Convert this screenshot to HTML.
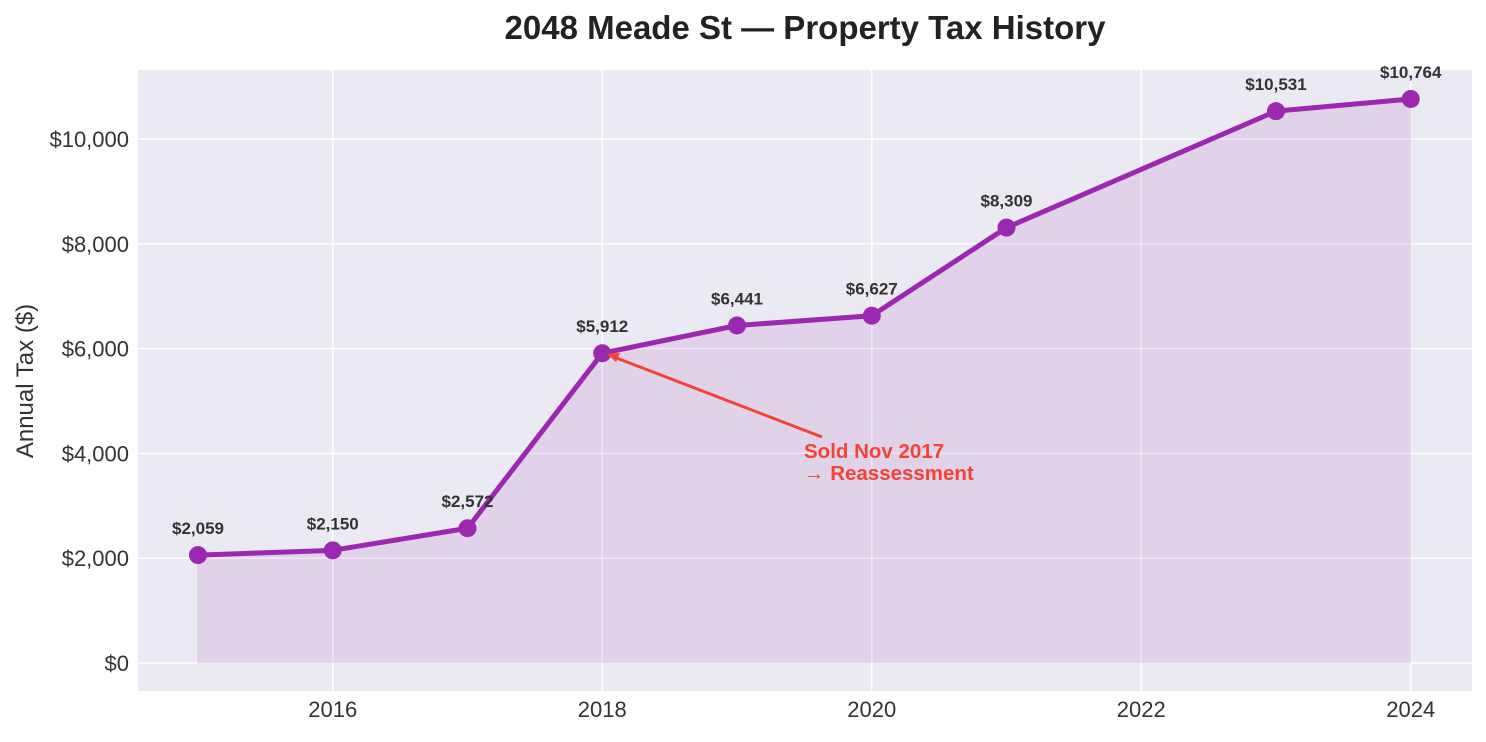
<!DOCTYPE html>
<html><head><meta charset="utf-8"><style>
body{margin:0;background:#fff;}
svg text{font-family:"Liberation Sans",sans-serif;}
</style></head><body>
<svg id="chart" width="1486" height="737" xmlns="http://www.w3.org/2000/svg">
<text x="805" y="39" text-anchor="middle" font-size="33" font-weight="bold" fill="#222">2048 Meade St — Property Tax History</text>
<rect x="138" y="70" width="1334" height="621" fill="#eaeaf2"/>
<g id="grid"></g>
<g id="marks"></g>
<text transform="translate(33,381) rotate(-90)" text-anchor="middle" font-size="24" fill="#333">Annual Tax ($)</text>
<line x1="822" y1="437" x2="614" y2="357" stroke="#f44336" stroke-width="3"/>
<polygon points="607,354 620,353 616,362" fill="#f44336"/>
<text x="804" y="458" font-size="20.5" font-weight="bold" fill="#f44336">Sold Nov 2017</text>
<text x="804" y="480" font-size="20.5" font-weight="bold" fill="#f44336">→ Reassessment</text>
</svg>
<script>
const years=[2015,2016,2017,2018,2019,2020,2021,2023,2024];
const taxValues=[2059,2150,2572,5912,6441,6627,8309,10531,10764];
const valueLabels=["$2,059","$2,150","$2,572","$5,912","$6,441","$6,627","$8,309","$10,531","$10,764"];
const xTicks=[2016,2018,2020,2022,2024];
const yTicks=[0,2000,4000,6000,8000,10000];
const yTickLabels=["$0","$2,000","$4,000","$6,000","$8,000","$10,000"];
const NS="http://www.w3.org/2000/svg";
const x=v=>198+(v-2015)*134.75;
const y=v=>663-v*0.0524;
function mk(tag,attrs,parent,txt){const e=document.createElementNS(NS,tag);for(const k in attrs)e.setAttribute(k,attrs[k]);if(txt!==undefined)e.textContent=txt;parent.appendChild(e);return e;}
const grid=document.getElementById('grid'),marks=document.getElementById('marks'),svg=document.getElementById('chart');
xTicks.forEach(t=>{
 const l=mk('line',{x1:x(t),x2:x(t),y1:70,y2:691,stroke:'#fff','stroke-width':1.5},grid);
 
 
 const tx=mk('text',{x:x(t),y:717,'text-anchor':'middle','font-size':22,fill:'#333'},svg,String(t));
 
 
});
yTicks.forEach((t,i)=>{
 const l=mk('line',{x1:138,x2:1472,y1:y(t),y2:y(t),stroke:'#fff','stroke-width':1.5},grid);
 
 
 const tx=mk('text',{x:129,y:y(t)+8,'text-anchor':'end','font-size':22,fill:'#333'},svg,yTickLabels[i]);
 
 
});
let pts=years.map((yr,i)=>x(yr)+','+y(taxValues[i]));
const area=mk('polygon',{points:x(years[0])+','+y(0)+' '+pts.join(' ')+' '+x(years[years.length-1])+','+y(0),fill:'#9c27b0','fill-opacity':0.12,stroke:'#9c27b0','stroke-opacity':0.12},marks);


const line=mk('polyline',{points:pts.join(' '),fill:'none',stroke:'#9c27b0','stroke-width':5,'stroke-linejoin':'round'},marks);


years.forEach((yr,i)=>{
 const c=mk('circle',{cx:x(yr),cy:y(taxValues[i]),r:9,fill:'#9c27b0'},marks);
 
 
 const t=mk('text',{x:x(yr),y:y(taxValues[i])-21,'text-anchor':'middle','font-size':17,'font-weight':'bold',fill:'#333'},marks,valueLabels[i]);
 
 
});
</script>
</body></html>
